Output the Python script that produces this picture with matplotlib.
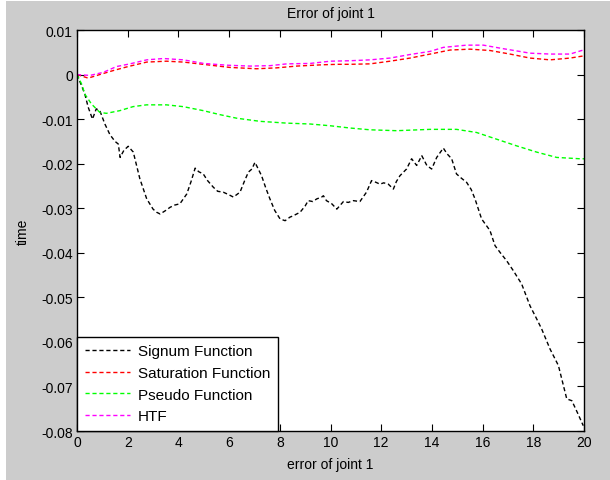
import matplotlib
matplotlib.use("Agg")
import matplotlib.pyplot as plt
from matplotlib.patches import Rectangle

plt.rcParams['font.family'] = ['Liberation Sans', 'DejaVu Sans']

# ---- data -------------------------------------------------------------
sig_x = [0, 0.18, 0.31, 0.44, 0.61, 0.76, 0.90, 1.10, 1.30, 1.50, 1.63, 1.70,
         1.85, 2.02, 2.22, 2.48, 2.75, 3.00, 3.14, 3.28, 3.50, 3.67, 3.85, 4.06,
         4.33, 4.50, 4.66, 4.80, 4.98, 5.15, 5.38, 5.55, 5.77, 6.00, 6.17, 6.43,
         6.60, 6.76, 6.90, 7.02, 7.15, 7.28, 7.45, 7.61, 7.80, 8.01, 8.21, 8.40,
         8.53, 8.80, 9.00, 9.12, 9.30, 9.46, 9.65, 9.72, 9.84, 10.05, 10.25,
         10.51, 10.70, 10.90, 11.16, 11.42, 11.62, 11.80, 11.95, 12.10, 12.28,
         12.48, 12.60, 12.74, 13.00, 13.20, 13.40, 13.60, 13.80, 13.99, 14.19,
         14.45, 14.60, 14.78, 14.97, 15.15, 15.37, 15.55, 15.70, 15.96, 16.29,
         16.49, 16.70, 16.95, 17.21, 17.54, 17.87, 18.13, 18.33, 18.66, 18.99,
         19.32, 19.52, 19.75, 19.97]
sig_y = [0, -0.0025, -0.0044, -0.0073, -0.0100, -0.0077, -0.0081, -0.0111,
         -0.0135, -0.0150, -0.0156, -0.0186, -0.0170, -0.0161, -0.0174, -0.0234,
         -0.0279, -0.0302, -0.0309, -0.0313, -0.0305, -0.0298, -0.0293, -0.0290,
         -0.0268, -0.0240, -0.0210, -0.0218, -0.0223, -0.0238, -0.0253, -0.0262,
         -0.0264, -0.0270, -0.0275, -0.0264, -0.0240, -0.0219, -0.0212, -0.0197,
         -0.0212, -0.0227, -0.0255, -0.0279, -0.0305, -0.0324, -0.0328, -0.0320,
         -0.0317, -0.0309, -0.0295, -0.0283, -0.0285, -0.0279, -0.0275, -0.0272,
         -0.0283, -0.0290, -0.0302, -0.0285, -0.0287, -0.0283, -0.0285, -0.0264,
         -0.0238, -0.0242, -0.0246, -0.0243, -0.0246, -0.0257, -0.0240, -0.0227,
         -0.0212, -0.0189, -0.0204, -0.0182, -0.0204, -0.0212, -0.0186, -0.0165,
         -0.0178, -0.0189, -0.0223, -0.0232, -0.0242, -0.0258, -0.0279, -0.0324,
         -0.0350, -0.0384, -0.0400, -0.0418, -0.0440, -0.0470, -0.0519, -0.0548,
         -0.0571, -0.0616, -0.0653, -0.0728, -0.0732, -0.0760, -0.0788]

sat_x = [0, 0.44, 0.90, 1.43, 2.02, 2.75, 3.53, 4.20, 5.12, 6.03, 7.08, 7.87,
         8.66, 9.71, 10.30, 10.77, 11.56, 12.35, 13.14, 13.93, 14.71, 15.50,
         16.29, 17.08, 17.87, 18.66, 19.45, 20.0]
sat_y = [0, -0.0008, 0.0, 0.0009, 0.0018, 0.0028, 0.0030, 0.0028, 0.0022,
         0.0016, 0.0013, 0.0015, 0.0019, 0.0022, 0.0023, 0.0023, 0.0024, 0.0030,
         0.0037, 0.0046, 0.0055, 0.0057, 0.0054, 0.0046, 0.0037, 0.0033, 0.0037,
         0.0042]

pse_x = [0, 0.18, 0.31, 0.57, 0.90, 1.16, 1.69, 2.21, 2.74, 3.53, 4.19, 4.98,
         5.64, 6.30, 7.22, 8.27, 9.20, 10.00, 10.77, 11.56, 12.61, 13.93, 14.97,
         15.76, 16.55, 17.34, 18.13, 18.92, 19.84, 20.0]
pse_y = [0, -0.0021, -0.0044, -0.0066, -0.0085, -0.0087, -0.0081, -0.0072,
         -0.0068, -0.0068, -0.0072, -0.0081, -0.0090, -0.0098, -0.0105, -0.0109,
         -0.0111, -0.0115, -0.0120, -0.0124, -0.0126, -0.0123, -0.0123, -0.0130,
         -0.0145, -0.0160, -0.0174, -0.0186, -0.0189, -0.0189]

htf_x = [0, 0.51, 1.04, 1.56, 2.09, 2.75, 3.41, 4.20, 4.99, 5.91, 6.83, 7.62,
         8.28, 9.20, 10.00, 10.77, 11.56, 12.35, 13.14, 13.93, 14.45, 15.37,
         16.03, 16.82, 17.87, 18.66, 19.45, 19.91, 20.0]
htf_y = [0, -0.0002, 0.0005, 0.0018, 0.0024, 0.0033, 0.0036, 0.0033, 0.0025,
         0.0021, 0.0019, 0.0020, 0.0024, 0.0025, 0.0030, 0.0031, 0.0033, 0.0037,
         0.0045, 0.0052, 0.0061, 0.0066, 0.0066, 0.0058, 0.0048, 0.0046, 0.0046,
         0.0054, 0.0055]

series_labels = ['Signum Function', 'Saturation Function', 'Pseudo Function', 'HTF']
x_ticks = [0, 2, 4, 6, 8, 10, 12, 14, 16, 18, 20]
y_ticks = [0.01, 0, -0.01, -0.02, -0.03, -0.04, -0.05, -0.06, -0.07, -0.08]
y_tick_labels = ['0.01', '0', '-0.01', '-0.02', '-0.03', '-0.04', '-0.05',
                 '-0.06', '-0.07', '-0.08']

# ---- figure -----------------------------------------------------------
fig = plt.figure(figsize=(6.10, 4.81), dpi=100, facecolor='white')
fig.patches.append(Rectangle((6 / 610, 0), 1, 1 - 2 / 481,
                             transform=fig.transFigure, facecolor='#cccccc',
                             edgecolor='none', zorder=-10))

ax = fig.add_axes([77 / 610, 1 - 432 / 481, 507 / 610, 401 / 481])
ax.set_facecolor('white')

dash = (0, (3, 2))
lw = 1.0
ax.plot(sig_x, sig_y, color='black', linestyle=dash, lw=lw, label=series_labels[0])
ax.plot(sat_x, sat_y, color='#ff0000', linestyle=dash, lw=lw, label=series_labels[1])
ax.plot(pse_x, pse_y, color='#00ff00', linestyle=dash, lw=lw, label=series_labels[2])
ax.plot(htf_x, htf_y, color='#ff00ff', linestyle=dash, lw=lw, label=series_labels[3])

ax.set_xlim(0, 20)
ax.set_ylim(-0.08, 0.01)
ax.set_xticks(x_ticks)
ax.set_xticklabels([str(t) for t in x_ticks])
ax.set_yticks(y_ticks)
ax.set_yticklabels(y_tick_labels)
ax.tick_params(direction='in', top=True, right=True, length=5, width=0.8,
               labelsize=10, colors='black', pad=3)
for s in ax.spines.values():
    s.set_linewidth(1.0)
    s.set_color('black')

ax.set_title('Error of joint 1', fontsize=10, pad=9)
ax.set_xlabel('error of joint 1', fontsize=10, labelpad=6)
ax.set_ylabel('time', fontsize=10, labelpad=8)

leg = ax.legend(loc='lower left', borderaxespad=0, fontsize=11,
                handlelength=3.0, handletextpad=0.5, labelspacing=0.5,
                borderpad=0.5, fancybox=False, framealpha=1)
leg.get_frame().set_edgecolor('black')
leg.get_frame().set_linewidth(1.0)

fig.savefig('out.png', dpi=100, facecolor=fig.get_facecolor())
